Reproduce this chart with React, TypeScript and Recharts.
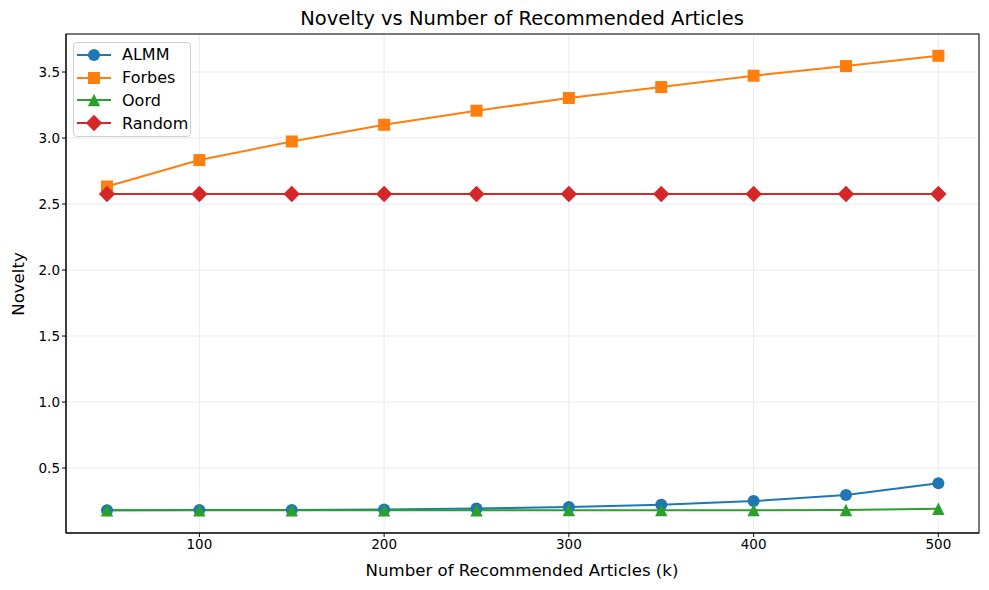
import { LineChart, Line, XAxis, YAxis, CartesianGrid, Legend } from "recharts";

const ks = [50, 100, 150, 200, 250, 300, 350, 400, 450, 500];
const almm = [0.181, 0.182, 0.183, 0.186, 0.193, 0.205, 0.222, 0.25, 0.295, 0.384];
const forbes = [2.633, 2.833, 2.974, 3.1, 3.207, 3.303, 3.386, 3.472, 3.545, 3.623];
const oord = [0.18, 0.18, 0.18, 0.18, 0.18, 0.181, 0.181, 0.181, 0.182, 0.192];
const random = [2.576, 2.576, 2.576, 2.576, 2.576, 2.576, 2.576, 2.576, 2.576, 2.576];

const xTicks = [100, 200, 300, 400, 500];
const yTicks = [0.5, 1.0, 1.5, 2.0, 2.5, 3.0, 3.5];

const rows = ks.map((k, i) => ({
  k,
  ALMM: almm[i],
  Forbes: forbes[i],
  Oord: oord[i],
  Random: random[i],
}));

const FONT = "DejaVu Sans, sans-serif";

function Marker({ kind, cx, cy, color }: { kind: string; cx: number; cy: number; color: string }) {
  if (kind === "circle") return <circle cx={cx} cy={cy} r={6} fill={color} />;
  if (kind === "square") return <rect x={cx - 6} y={cy - 6} width={12} height={12} fill={color} />;
  if (kind === "triangle")
    return <polygon points={`${cx},${cy - 6.2} ${cx + 6.2},${cy + 6.2} ${cx - 6.2},${cy + 6.2}`} fill={color} />;
  return <polygon points={`${cx},${cy - 8.2} ${cx + 8.2},${cy} ${cx},${cy + 8.2} ${cx - 8.2},${cy}`} fill={color} />;
}

const series = [
  { key: "ALMM", color: "#1f77b4", kind: "circle" },
  { key: "Forbes", color: "#ff7f0e", kind: "square" },
  { key: "Oord", color: "#2ca02c", kind: "triangle" },
  { key: "Random", color: "#d62728", kind: "diamond" },
];

function LegendBox() {
  return (
    <div
      style={{
        boxSizing: "border-box",
        width: 118,
        height: 95,
        background: "rgba(255,255,255,0.8)",
        border: "1px solid #d0d0d0",
        borderRadius: 4,
        paddingLeft: 3,
        fontFamily: FONT,
        fontSize: 16,
        color: "#000",
        textAlign: "left",
      }}
    >
      <div style={{ height: 0.5 }} />
      {series.map((s) => (
        <div key={s.key} style={{ display: "flex", alignItems: "center", height: 22.8 }}>
          <svg width={34} height={20} style={{ marginRight: 11, flex: "none" }}>
            <line x1={0} y1={10} x2={34} y2={10} stroke={s.color} strokeWidth={2} />
            <Marker kind={s.kind} cx={17} cy={10} color={s.color} />
          </svg>
          <span style={{ whiteSpace: "nowrap" }}>{s.key}</span>
        </div>
      ))}
    </div>
  );
}

export default function App() {
  return (
    <div style={{ position: "absolute", left: 0, top: 0, width: 989, height: 590, background: "#fff" }}>
      <LineChart
        width={989}
        height={590}
        data={rows}
        margin={{ top: 34, right: 10, bottom: 0, left: 0 }}
        style={{ fontFamily: FONT }}
      >
        <text x={522} y={25} textAnchor="middle" fontSize={19.5} fontFamily={FONT} fill="#000">
          Novelty vs Number of Recommended Articles
        </text>
        <CartesianGrid stroke="#e6e6e6" strokeWidth={0.8} />
        <XAxis
          dataKey="k"
          type="number"
          domain={[27.8, 522]}
          ticks={xTicks}
          height={57}
          tickLine={{ stroke: "#000" }}
          axisLine={{ stroke: "#000" }}
          tick={{ fill: "#000", fontSize: 13.5, fontFamily: FONT }}
          tickSize={4}
          label={{
            content: () => (
              <text x={522} y={576} textAnchor="middle" fontSize={16.6} fontFamily={FONT} fill="#000">
                Number of Recommended Articles (k)
              </text>
            ),
          }}
        />
        <YAxis
          type="number"
          domain={[0.008, 3.788]}
          ticks={yTicks}
          width={66}
          allowDataOverflow
          tickFormatter={(v: number) => v.toFixed(1)}
          tickLine={{ stroke: "#000" }}
          axisLine={{ stroke: "#000" }}
          tick={{ fill: "#000", fontSize: 13.5, fontFamily: FONT }}
          tickSize={4}
          label={{
            content: () => (
              <text
                x={24}
                y={284}
                textAnchor="middle"
                fontSize={16.6}
                fontFamily={FONT}
                fill="#000"
                transform="rotate(-90 24 284)"
              >
                Novelty
              </text>
            ),
          }}
        />
        <Legend
          layout="horizontal"
          align="center"
          verticalAlign="middle"
          wrapperStyle={{ left: 73, top: 42, width: 118, height: 95 }}
          content={() => <LegendBox />}
        />
        {series.map((s) => (
          <Line
            key={s.key}
            dataKey={s.key}
            stroke={s.color}
            strokeWidth={2}
            isAnimationActive={false}
            dot={(p: any) => <Marker key={`${s.key}-${p.index}`} kind={s.kind} cx={p.cx} cy={p.cy} color={s.color} />}
            activeDot={false}
          />
        ))}
        <rect x={66} y={34} width={913} height={499} fill="none" stroke="#000" strokeWidth={1} />
      </LineChart>
    </div>
  );
}
